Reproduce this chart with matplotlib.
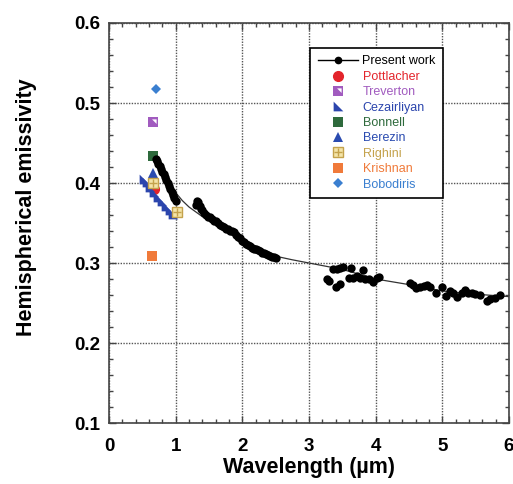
import matplotlib
matplotlib.use("Agg")
import matplotlib.pyplot as plt
from matplotlib.path import Path
from matplotlib.legend_handler import HandlerTuple
from matplotlib.ticker import MultipleLocator, FormatStrFormatter

plt.rcParams['font.family'] = ['Liberation Sans', 'DejaVu Sans']

# ---- present work: measured hemispherical emissivity ----
pw_wl_a = [0.70, 0.72, 0.74, 0.76, 0.78, 0.80, 0.82, 0.84, 0.86, 0.88,
           0.90, 0.92, 0.94, 0.96, 0.98, 1.00]
pw_em_a = [0.430, 0.427, 0.424, 0.421, 0.417, 0.414, 0.411, 0.407, 0.404, 0.400,
           0.396, 0.392, 0.389, 0.385, 0.381, 0.377]

pw_wl_b = [1.30, 1.32, 1.34, 1.36, 1.38, 1.40, 1.42, 1.45, 1.48, 1.51,
           1.54, 1.57, 1.60, 1.63, 1.66, 1.69, 1.72, 1.75, 1.78, 1.81,
           1.84, 1.87, 1.90, 1.93, 1.96, 1.99, 2.02, 2.05, 2.08, 2.11,
           2.14, 2.17, 2.20, 2.23, 2.26, 2.29, 2.32, 2.35, 2.38, 2.41,
           2.44, 2.47, 2.50]
pw_em_b = [0.372, 0.378, 0.376, 0.371, 0.368, 0.366, 0.363, 0.360, 0.358, 0.357,
           0.355, 0.353, 0.352, 0.350, 0.348, 0.346, 0.345, 0.343, 0.342, 0.340,
           0.340, 0.339, 0.335, 0.333, 0.331, 0.328, 0.326, 0.324, 0.322, 0.321,
           0.319, 0.318, 0.317, 0.316, 0.315, 0.313, 0.312, 0.311, 0.310, 0.309,
           0.308, 0.307, 0.306]

pw_wl_c = [3.27, 3.30, 3.36, 3.40, 3.42, 3.47, 3.47, 3.51, 3.60, 3.63,
           3.66, 3.72, 3.77, 3.81, 3.84, 3.90, 3.96, 4.02, 4.05,
           4.51, 4.56, 4.61, 4.66, 4.72, 4.77, 4.82, 4.90, 4.99, 5.06,
           5.11, 5.16, 5.22, 5.29, 5.34, 5.39, 5.44, 5.49, 5.56, 5.67,
           5.72, 5.79, 5.86]
pw_em_c = [0.280, 0.277, 0.2925, 0.2705, 0.293, 0.294, 0.2735, 0.2955, 0.2815, 0.294,
           0.281, 0.284, 0.2815, 0.291, 0.280, 0.280, 0.2765, 0.2815, 0.283,
           0.2745, 0.2725, 0.2685, 0.2705, 0.2715, 0.2725, 0.2695, 0.263, 0.2705, 0.259,
           0.2655, 0.263, 0.257, 0.263, 0.2665, 0.263, 0.263, 0.2615, 0.260, 0.253,
           0.2545, 0.256, 0.260]

# smooth fit through the present data
fit_wl = [0.68, 0.75, 0.80, 0.90, 1.00, 1.10, 1.20, 1.30, 1.40, 1.50, 1.75,
          2.00, 2.25, 2.50, 2.75, 3.00, 3.25, 3.50, 3.75, 4.00, 4.50, 5.00,
          5.50, 6.00]
fit_em = [0.433, 0.424, 0.417, 0.402, 0.388, 0.378, 0.370, 0.364, 0.358, 0.353, 0.342,
          0.330, 0.319, 0.3085, 0.304, 0.300, 0.296, 0.292, 0.286, 0.280, 0.273, 0.265,
          0.261, 0.258]

# ---- literature values ----
pottlacher_wl, pottlacher_em = [0.68], [0.393]
treverton_wl, treverton_em = [0.66], [0.476]
cezairliyan_wl = [0.52, 0.57, 0.62, 0.68, 0.74, 0.80, 0.86, 0.91, 0.96]
cezairliyan_em = [0.405, 0.401, 0.395, 0.389, 0.383, 0.377, 0.371, 0.366, 0.361]
bonnell_wl, bonnell_em = [0.655], [0.434]
berezin_wl, berezin_em = [0.655], [0.412]
righini_wl, righini_em = [0.655, 1.015], [0.400, 0.364]
krishnan_wl, krishnan_em = [0.64], [0.309]
bobodiris_wl, bobodiris_em = [0.70], [0.518]

# custom marker shapes
right_tri = Path([(-1, -1), (-1, 1), (1, -1), (-1, -1)],
                 [Path.MOVETO, Path.LINETO, Path.LINETO, Path.CLOSEPOLY])
corner_tri = Path([(0.55, 0.55), (0.55, -0.25), (-0.25, 0.55), (0.55, 0.55)],
                  [Path.MOVETO, Path.LINETO, Path.LINETO, Path.CLOSEPOLY])

c_red = '#e3242b'
c_purple = '#a15bbf'
c_cez = '#2b45ad'
c_green = '#2e6a3c'
c_ber = '#2a4bb0'
c_tan = '#c4a24c'
c_orange = '#f07a3a'
c_bob = '#3a7fd0'

fig = plt.figure(figsize=(5.13, 4.84), dpi=100)
ax = fig.add_axes([109 / 513, 61 / 484, 400 / 513, 400 / 484])

ax.plot(fit_wl, fit_em, color='#333333', lw=0.9, zorder=2)

h_pot, = ax.plot(pottlacher_wl, pottlacher_em, 'o', color=c_red, ms=7, mec=c_red, ls='none', zorder=3)
h_cez, = ax.plot(cezairliyan_wl, cezairliyan_em, marker=right_tri, color=c_cez, ms=7,
                 mew=0, ls='none', zorder=4)
h_ber, = ax.plot(berezin_wl, berezin_em, '^', color=c_ber, ms=7.5, mew=0, ls='none', zorder=4)
h_bon, = ax.plot(bonnell_wl, bonnell_em, 's', color=c_green, ms=7.5, mew=0, ls='none', zorder=4)
h_tre, = ax.plot(treverton_wl, treverton_em, 's', color=c_purple, ms=6.5, mew=0, ls='none', zorder=4)
h_tre2, = ax.plot(treverton_wl, treverton_em, marker=corner_tri, color='white', ms=4.5, mew=0,
                  ls='none', zorder=5)
h_rig, = ax.plot(righini_wl, righini_em, 's', mfc='#f4e4a8', mec=c_tan, ms=6.5, mew=1,
                 ls='none', zorder=6)
h_rig2, = ax.plot(righini_wl, righini_em, '+', color=c_tan, ms=6, mew=1, ls='none', zorder=7)
h_kri, = ax.plot(krishnan_wl, krishnan_em, 's', color=c_orange, ms=7, mew=0, ls='none', zorder=4)
h_bob, = ax.plot(bobodiris_wl, bobodiris_em, 'D', color=c_bob, ms=4.8, mew=0, ls='none', zorder=4)

for wl, em in [(pw_wl_a, pw_em_a), (pw_wl_b, pw_em_b), (pw_wl_c, pw_em_c)]:
    ax.plot(wl, em, 'o', color='black', ms=6, mew=0, ls='none', zorder=5)

h_pw, = ax.plot([], [], color='black', lw=1, marker='o', ms=4.5)

ax.set_xlim(0, 6)
ax.set_ylim(0.1, 0.6)
ax.xaxis.set_major_locator(MultipleLocator(1))
ax.xaxis.set_minor_locator(MultipleLocator(0.2))
ax.yaxis.set_major_locator(MultipleLocator(0.1))
ax.yaxis.set_minor_locator(MultipleLocator(0.02))
ax.yaxis.set_major_formatter(FormatStrFormatter('%.1f'))
ax.tick_params(which='both', direction='in', top=True, right=True, width=1, color='#444444')
ax.tick_params(which='major', length=5, labelsize=13.5)
ax.tick_params(axis='y', which='major', pad=6)
ax.tick_params(axis='x', which='major', pad=11)
ax.tick_params(which='minor', length=3)
for lab in ax.get_xticklabels() + ax.get_yticklabels():
    lab.set_fontweight('bold')
ax.grid(True, which='major', ls=(0, (1, 1)), color='#555555', lw=1)
for s in ax.spines.values():
    s.set_color('#444444')
    s.set_linewidth(1.2)

ax.set_xlabel('Wavelength (\u00b5m)', fontsize=15.5, fontweight='bold', labelpad=1)
ax.set_ylabel('Hemispherical emissivity', fontsize=15.5, fontweight='bold', labelpad=27, y=0.54)

handles = [h_pw, h_pot, (h_tre, h_tre2), h_cez, h_bon, h_ber, (h_rig, h_rig2), h_kri, h_bob]
labels = ['Present work', 'Pottlacher', 'Treverton', 'Cezairliyan', 'Bonnell', 'Berezin',
          'Righini', 'Krishnan', 'Bobodiris']
label_colors = ['black', c_red, c_purple, c_cez, c_green, c_ber, c_tan, c_orange, c_bob]
leg = ax.legend(handles, labels, loc='upper left', bbox_to_anchor=(0.5025, 0.9375),
                borderaxespad=0, fontsize=9, frameon=True, fancybox=False, edgecolor='black',
                framealpha=1, handlelength=3.2, handletextpad=0.4, labelspacing=0.27,
                borderpad=0.6, handler_map={tuple: HandlerTuple(ndivide=1, pad=0)})
leg.get_frame().set_linewidth(1.2)
for t, c in zip(leg.get_texts(), label_colors):
    t.set_color(c)

fig.savefig('out.png', dpi=100)
